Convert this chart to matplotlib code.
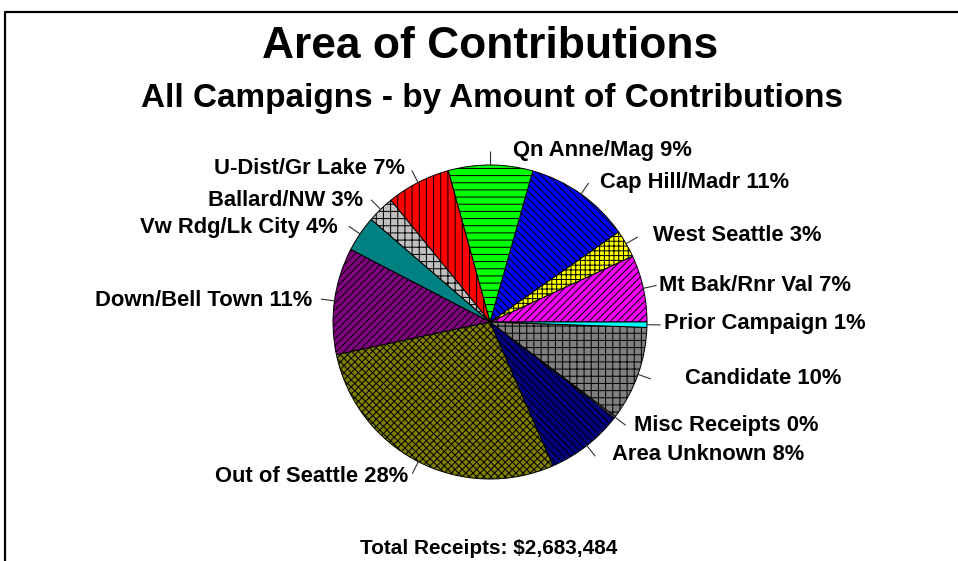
import numpy as np
import matplotlib
matplotlib.use("Agg")
import matplotlib.pyplot as plt
from matplotlib.lines import Line2D

# ---- data (counter-clockwise from 3 o'clock) ----
areas = ["Mt Bak/Rnr Val", "West Seattle", "Cap Hill/Madr", "Qn Anne/Mag",
         "U-Dist/Gr Lake", "Ballard/NW", "Vw Rdg/Lk City", "Down/Bell Town",
         "Out of Seattle", "Area Unknown", "Misc Receipts", "Candidate",
         "Prior Campaign"]
shares = [6.9, 2.85, 10.9, 8.7, 6.6, 2.8, 3.7, 11.0, 28.3, 8.0, 0.15, 9.75, 0.55]
colors = ["#FF00FF", "#FFFF00", "#0000FF", "#00FF00", "#FF0000", "#C0C0C0",
          "#008080", "#800080", "#808000", "#000080", "#FFFFFF", "#808080",
          "#00FFFF"]
hatches = ["////", "+++", "\\\\\\\\", "--", "||", "++", "", "////", "xxxx",
           "\\\\\\\\", "", "++", ""]
title = "Area of Contributions"
subtitle = "All Campaigns - by Amount of Contributions"
footer = "Total Receipts: $2,683,484"

# ---- layout (pixel positions, y measured from top) ----
W, H = 958, 561
DPI = 86
cx, cy_top, R = 490, 322, 157
label_pos = [(659, 285, "left"), (653, 235, "left"), (600, 182, "left"),
             (513, 150, "left"), (405, 168, "right"), (363, 200, "right"),
             (338, 227, "right"), (312, 300, "right"), (408, 477, "right"),
             (612, 455, "left"), (634, 426, "left"), (685, 379, "left"),
             (664, 323, "left")]


def pt(px):
    return px * 72.0 / DPI


plt.rcParams["font.family"] = ["Liberation Sans", "DejaVu Sans"]
plt.rcParams["hatch.linewidth"] = pt(1.0)

fig = plt.figure(figsize=(W / DPI, H / DPI), dpi=DPI)
ax = fig.add_axes([0, 0, 1, 1])
wedges, _ = ax.pie(shares, colors=colors, hatch=hatches, startangle=0,
                   counterclock=True, radius=R, center=(cx, H - cy_top),
                   wedgeprops=dict(edgecolor="black", linewidth=pt(1.0)))
ax.set_xlim(0, W)
ax.set_ylim(0, H)
ax.set_aspect("equal")
ax.axis("off")

total = sum(shares)
for w, name, v, (lx, ly, ha) in zip(wedges, areas, shares, label_pos):
    mid = np.deg2rad((w.theta1 + w.theta2) / 2)
    x0, y0 = cx + R * np.cos(mid), (H - cy_top) + R * np.sin(mid)
    x1, y1 = cx + (R + 13) * np.cos(mid), (H - cy_top) + (R + 13) * np.sin(mid)
    ax.plot([x0, x1], [y0, y1], color="#303030", lw=pt(1.1))
    ax.text(lx, H - ly, f"{name} {round(v / total * 100):.0f}%", ha=ha,
            va="center", fontsize=pt(22), fontweight="bold")

ax.text(490, H - 46, title, ha="center", va="center", fontsize=pt(44.4), fontweight="bold")
ax.text(492, H - 98, subtitle, ha="center", va="center", fontsize=pt(33.3), fontweight="bold")
ax.text(489, H - 548, footer, ha="center", va="center", fontsize=pt(20.7), fontweight="bold")

# outer frame (cut at right and bottom)
fig.add_artist(Line2D([1.01, 5 / W, 5 / W], [1 - 12 / H, 1 - 12 / H, -0.01],
                      transform=fig.transFigure, color="black", lw=pt(2.2)))

fig.savefig("out.png", dpi=DPI)
